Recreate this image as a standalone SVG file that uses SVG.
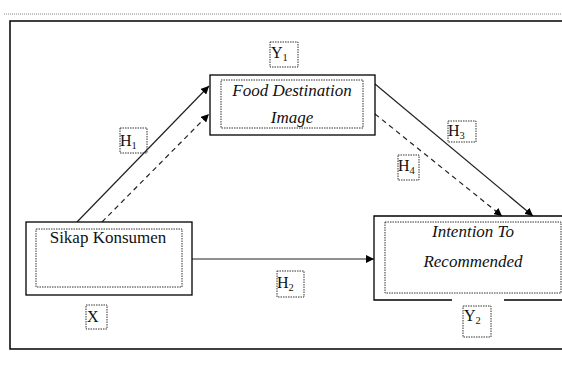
<svg xmlns="http://www.w3.org/2000/svg" width="562" height="370" viewBox="0 0 562 370">
<style>
.frame{fill:none;stroke:#000;stroke-width:1.5}
.box{fill:#fff;stroke:#000;stroke-width:1.3}
.dot{fill:none;stroke:#333;stroke-width:1;stroke-dasharray:1.5 1}
.lbl{fill:none;stroke:#333;stroke-width:1;stroke-dasharray:1.5 1}
.t{font-family:"Liberation Serif","Times New Roman",serif;font-size:17px;fill:#111}
.l{font-size:16px}
.i{font-style:italic}
.sub{font-size:10.5px}
.ln{fill:none;stroke:#222;stroke-width:1.2}
.ds{stroke-dasharray:5 4}
</style>
<defs>
<marker id="ah" viewBox="0 0 10 10" refX="10" refY="5" markerWidth="8" markerHeight="8" markerUnits="userSpaceOnUse" orient="auto">
<path d="M0,0 L10,5 L0,10 z" fill="#000"/>
</marker>
</defs>
<line x1="4" y1="14" x2="562" y2="14" stroke="#888" stroke-width="1" stroke-dasharray="1 1"/>
<path class="frame" d="M563,21 H10 V349 H563"/>
<g id="connectors">
<line class="ln" x1="77" y1="222" x2="209" y2="86" marker-end="url(#ah)"/>
<line class="ln ds" x1="102" y1="222" x2="209" y2="114" marker-end="url(#ah)"/>
<line class="ln" x1="375" y1="84" x2="533" y2="216" marker-end="url(#ah)"/>
<line class="ln ds" x1="375" y1="114" x2="502" y2="216" marker-end="url(#ah)"/>
<line class="ln" x1="192" y1="259" x2="374" y2="259" marker-end="url(#ah)"/>
</g>
<g id="y1-node">
<rect class="box" x="210" y="75" width="165" height="60"/>
<rect class="dot" x="221" y="80" width="142" height="48"/>
<text class="t i" x="292" y="96" text-anchor="middle">Food Destination</text>
<text class="t i" x="292" y="123" text-anchor="middle">Image</text>
</g>
<g id="x-node">
<rect class="box" x="26" y="222" width="166" height="73"/>
<rect class="dot" x="36" y="229" width="146" height="58"/>
<text class="t" x="108" y="243" text-anchor="middle">Sikap Konsumen</text>
</g>
<g id="y2-node">
<path fill="#fff" d="M374,216 H563 V300 H374 z"/>
<path class="frame" style="stroke-width:1.3" d="M452,300 H374 V216 H563 M504,300 H563"/>
<rect class="dot" x="385" y="222" width="176" height="71"/>
<text class="t i" x="473" y="237" text-anchor="middle">Intention To</text>
<text class="t i" x="473" y="267" text-anchor="middle">Recommended</text>
</g>
<g id="label-y1">
<rect class="lbl" x="270" y="42" width="28" height="25"/>
<text class="t l" x="271" y="58">Y<tspan class="sub" dy="3">1</tspan></text>
</g>
<g id="label-x">
<rect class="lbl" x="86" y="305" width="21" height="24"/>
<text class="t l" x="87" y="322">X</text>
</g>
<g id="label-y2">
<rect class="lbl" x="463" y="306" width="28" height="31"/>
<text class="t l" x="464" y="321">Y<tspan class="sub" dy="3">2</tspan></text>
</g>
<g id="label-h1">
<rect class="lbl" x="120" y="128" width="27" height="25"/>
<text class="t l" x="120" y="146">H<tspan class="sub" dy="3">1</tspan></text>
</g>
<g id="label-h2">
<rect class="lbl" x="277" y="271" width="27" height="26"/>
<text class="t l" x="277" y="288">H<tspan class="sub" dy="3">2</tspan></text>
</g>
<g id="label-h3">
<rect class="lbl" x="448" y="121" width="28" height="21"/>
<text class="t l" x="448" y="136">H<tspan class="sub" dy="3">3</tspan></text>
</g>
<g id="label-h4">
<rect class="lbl" x="398" y="155" width="21" height="25"/>
<text class="t l" x="398" y="171">H<tspan class="sub" dy="3">4</tspan></text>
</g>
</svg>
